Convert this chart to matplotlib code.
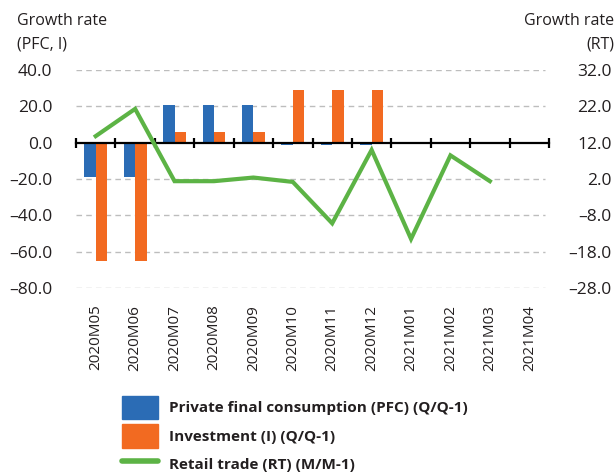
import numpy as np
import matplotlib
matplotlib.use('Agg')
import matplotlib.pyplot as plt
from matplotlib.lines import Line2D
from matplotlib.patches import Patch

plt.rcParams['font.family'] = ['Open Sans', 'DejaVu Sans']

months = ['2020M05', '2020M06', '2020M07', '2020M08', '2020M09', '2020M10',
          '2020M11', '2020M12', '2021M01', '2021M02', '2021M03', '2021M04']
pfc = [-19.0, -19.0, 21.0, 21.0, 21.0, -1.5, -1.5, -1.5, np.nan, np.nan, np.nan, np.nan]
inv = [-65.0, -65.0, 6.0, 6.0, 6.0, 29.0, 29.0, 29.0, np.nan, np.nan, np.nan, np.nan]
rt = [13.8, 21.3, 1.4, 1.4, 2.4, 1.2, -10.2, 10.0, -14.5, 8.5, 1.4, np.nan]

left_ticks = [40, 20, 0, -20, -40, -60, -80]
right_ticks = [32, 22, 12, 2, -8, -18, -28]

blue = '#2b6cb5'
orange = '#f26a21'
green = '#5cb345'
txt = '#231f20'

fig = plt.figure(figsize=(6.16, 4.74), dpi=100)
ax = fig.add_axes([76 / 616, (474 - 288) / 474, 473 / 616, 218 / 474])
ax2 = ax.twinx()

x = np.arange(len(months))
w = 0.29
ax.bar(x - w / 2, pfc, width=w, color=blue, zorder=3)
ax.bar(x + w / 2, inv, width=w, color=orange, zorder=3)
ax2.plot(x, rt, color=green, linewidth=3, solid_joinstyle='miter', zorder=4)

ax.set_xlim(-0.5, len(months) - 0.5)
ax.set_ylim(-80, 40)
ax2.set_ylim(-28, 32)
ax.set_yticks(left_ticks)
ax.set_yticklabels([f'{v:.1f}'.replace('-', '\u2013') for v in left_ticks])
ax2.set_yticks(right_ticks)
ax2.set_yticklabels([f'{v:.1f}'.replace('-', '\u2013') for v in right_ticks])

# dashed grid lines, except the zero line which is the solid axis
for v in left_ticks:
    if v != 0:
        ax.axhline(v, xmin=0, xmax=0.992, color='#bdbdbd', linestyle=(0, (4, 3)),
                   linewidth=1, zorder=1)

for a in (ax, ax2):
    for s in ('left', 'right', 'top'):
        a.spines[s].set_visible(False)
    a.tick_params(axis='y', length=0, labelsize=12.5, labelcolor=txt)
ax.tick_params(axis='y', pad=17)
ax2.tick_params(axis='y', pad=45)
for lab in ax2.get_yticklabels():
    lab.set_horizontalalignment('right')

ax2.spines['bottom'].set_visible(False)
ax.spines['bottom'].set_position(('data', 0))
ax.spines['bottom'].set_color('black')
ax.spines['bottom'].set_linewidth(1.6)
ax.spines['bottom'].set_zorder(5)
ax.set_xticks(np.arange(-0.5, len(months), 1.0))
ax.tick_params(axis='x', direction='inout', length=7, width=1.6, labelbottom=False)

sec = ax.secondary_xaxis('bottom')
sec.spines['bottom'].set_visible(False)
sec.set_xticks(x)
sec.set_xticklabels(months, rotation=90, fontsize=11, color=txt)
sec.tick_params(axis='x', length=0, pad=12)

fig.text(17 / 616, 1 - 33 / 474, 'Growth rate\n(PFC, I)', fontsize=11.5, color=txt,
         va='center', ha='left', linespacing=1.65)
fig.text(614 / 616, 1 - 33 / 474, 'Growth rate\n(RT)', fontsize=11.5, color=txt,
         va='center', ha='right', multialignment='right', linespacing=1.65)

handles = [Patch(color=blue), Patch(color=orange),
           Line2D([0], [0], color=green, linewidth=4, solid_capstyle='round')]
labels = ['Private final consumption (PFC) (Q/Q-1)', 'Investment (I) (Q/Q-1)',
          'Retail trade (RT) (M/M-1)']
leg = fig.legend(handles, labels, loc='upper left', bbox_to_anchor=(108 / 616, 1 - 382 / 474),
                 frameon=False, handlelength=2.35, handleheight=2.0, handletextpad=0.75,
                 labelspacing=0.32, prop={'size': 11, 'weight': 'bold'})
for t in leg.get_texts():
    t.set_color(txt)

fig.savefig('out.png', dpi=100)
